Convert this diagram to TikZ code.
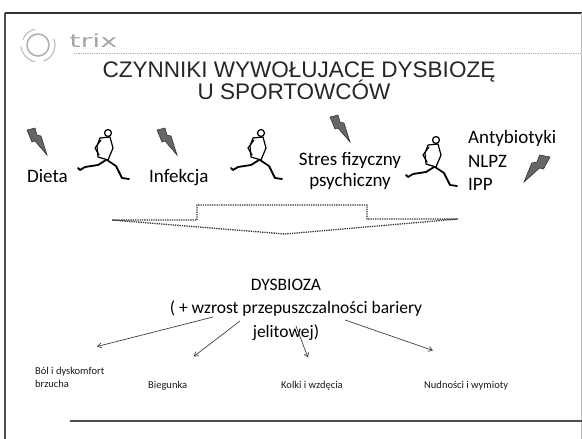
\documentclass[tikz,border=0pt]{standalone}
\usepackage{fontspec}
\setmainfont{Carlito}
\newfontfamily\headfont{Liberation Sans}
\newfontfamily\logofont{DejaVu Sans}
\usetikzlibrary{arrows.meta,calc}

\begin{document}
\begin{tikzpicture}[x=1pt, y=-1pt, >={Straight Barb[length=4pt,width=5pt]},
      cause/.style={font=\fontsize{19}{23}\selectfont, inner sep=0pt},
      mid/.style={font=\fontsize{17.5}{24}\selectfont, inner sep=0pt, anchor=base},
      effect/.style={font=\fontsize{10.5}{13}\selectfont, inner sep=0pt, anchor=base west, text=black!90},
      link/.style={->, black!75, line width=0.7pt},
      bolt/.pic={\filldraw[fill=gray!50!black!80, draw=black!80, line width=0.6pt]
          (0,2) -- (8,0) -- (10,7) -- (14,8) -- (20,27) -- (8,13) -- (5,14) -- cycle;},
      runner/.pic={
          \begin{scope}[line width=1.8pt, line cap=round, line join=round]
          \draw[line width=1.2pt] (32,5) circle (3.5);
          \filldraw[fill=white, line width=1.2pt] (24,10) -- (34,9) -- (37,20) -- (32,32) -- (22,29) -- (21,18) -- cycle;
          \draw[line width=1.2pt] (25,12) -- (19,20) -- (23,27);
          \draw (30,32) -- (22,37) -- (9,39) -- (4,42) -- (2,40);
          \draw (31,32) -- (40,38) -- (46,50) -- (53,51);
          \end{scope}}]
  \useasboundingbox (0,0) rectangle (582,439);

  % frame and logo
  \draw[line width=1.8pt, black!70] (5,439) -- (5,13);
  \draw[line width=1.6pt, black!80] (5,13) -- (582,13);
  \draw[line width=0.6pt, black!25] (581,13) -- (581,439);
  \draw[gray!60, line width=1.6pt] (38,45) circle (11);
  \draw[gray!50, line width=1.2pt] (38,45) ++(100:17) arc (100:175:17);
  \draw[gray!50, line width=1.2pt] (38,45) ++(200:16) arc (200:260:16);
  \draw[gray!50, line width=1.2pt] (38,45) ++(-20:17) arc (-20:70:17);
  \node[font=\logofont\fontsize{18}{18}\selectfont, text=gray!70, xscale=1.6, anchor=base west, inner sep=0pt] (logo) at (69,48) {trix};
  \draw[gray!60, densely dotted, line width=0.8pt] (74,53) -- (582,53);

  % title
  \node[font=\headfont\fontsize{22.5}{22}\selectfont, text=black!85, anchor=base, inner sep=0pt] (title) at (299,77) {CZYNNIKI WYWOŁUJACE DYSBIOZĘ};
  \node[font=\headfont\fontsize{22.5}{22}\selectfont, text=black!85, anchor=base, inner sep=0pt] (title2) at (294,99) {U SPORTOWCÓW};

  % causes
  \pic at (27,128) {bolt};
  \pic at (157,128) {bolt};
  \pic at (330,115) {bolt};
  \pic[xscale=-1.3] at (550,155) {bolt};
  \pic at (76,128) {runner};
  \pic at (229,128) {runner};
  \pic at (404,135) {runner};
  \node[cause, anchor=base west] (dieta) at (27,182) {Dieta};
  \node[cause, anchor=base west] (infekcja) at (149,182) {Infekcja};
  \node[cause, anchor=base] (stres) at (350,165) {Stres fizyczny};
  \node[cause, anchor=base] (psych) at (350,186) {psychiczny};
  \node[cause, anchor=base west] (anty) at (468,143) {Antybiotyki};
  \node[cause, anchor=base west] (nlpz) at (468,167) {NLPZ};
  \node[cause, anchor=base west] (ipp) at (468,190) {IPP};

  % big block arrow
  \draw[black!80, densely dotted, line width=1.3pt] (112,220) -- (197,220) -- (197,205) -- (367,205)
      -- (367,219) -- (458,219) -- (285,234) -- cycle;

  % result
  \node[mid] (dys) at (286,290) {DYSBIOZA};
  \node[mid] (bar) at (296,313) {( + wzrost przepuszczalności bariery};
  \node[mid] (jel) at (286,337) {jelitowej)};

  % effects
  \node[effect] (bol) at (35,374) {Ból i dyskomfort};
  \node[effect] (brz) at (35,387) {brzucha};
  \node[effect] (bieg) at (148,388) {Biegunka};
  \node[effect] (kolki) at (281,388) {Kolki i wzdęcia};
  \node[effect] (nud) at (424,388) {Nudności i wymioty};
  \coordinate (t1) at (213,317);
  \coordinate (t2) at (240,321);
  \coordinate (t3) at (296,326);
  \coordinate (t4) at (345,320);
  \draw[link] (t1) -- ($(bol.north west)+(62,-20)$);
  \draw[link] (t2) -- ($(bieg.north)+(26,-24)$);
  \draw[link] (t3) -- ($(kolki.north)+(-4,-23)$);
  \draw[link] (t4) -- ($(nud.north west)+(9,-30)$);

  \draw[black!70, line width=1.4pt] (70,421) -- (582,421);
\end{tikzpicture}
\end{document}
